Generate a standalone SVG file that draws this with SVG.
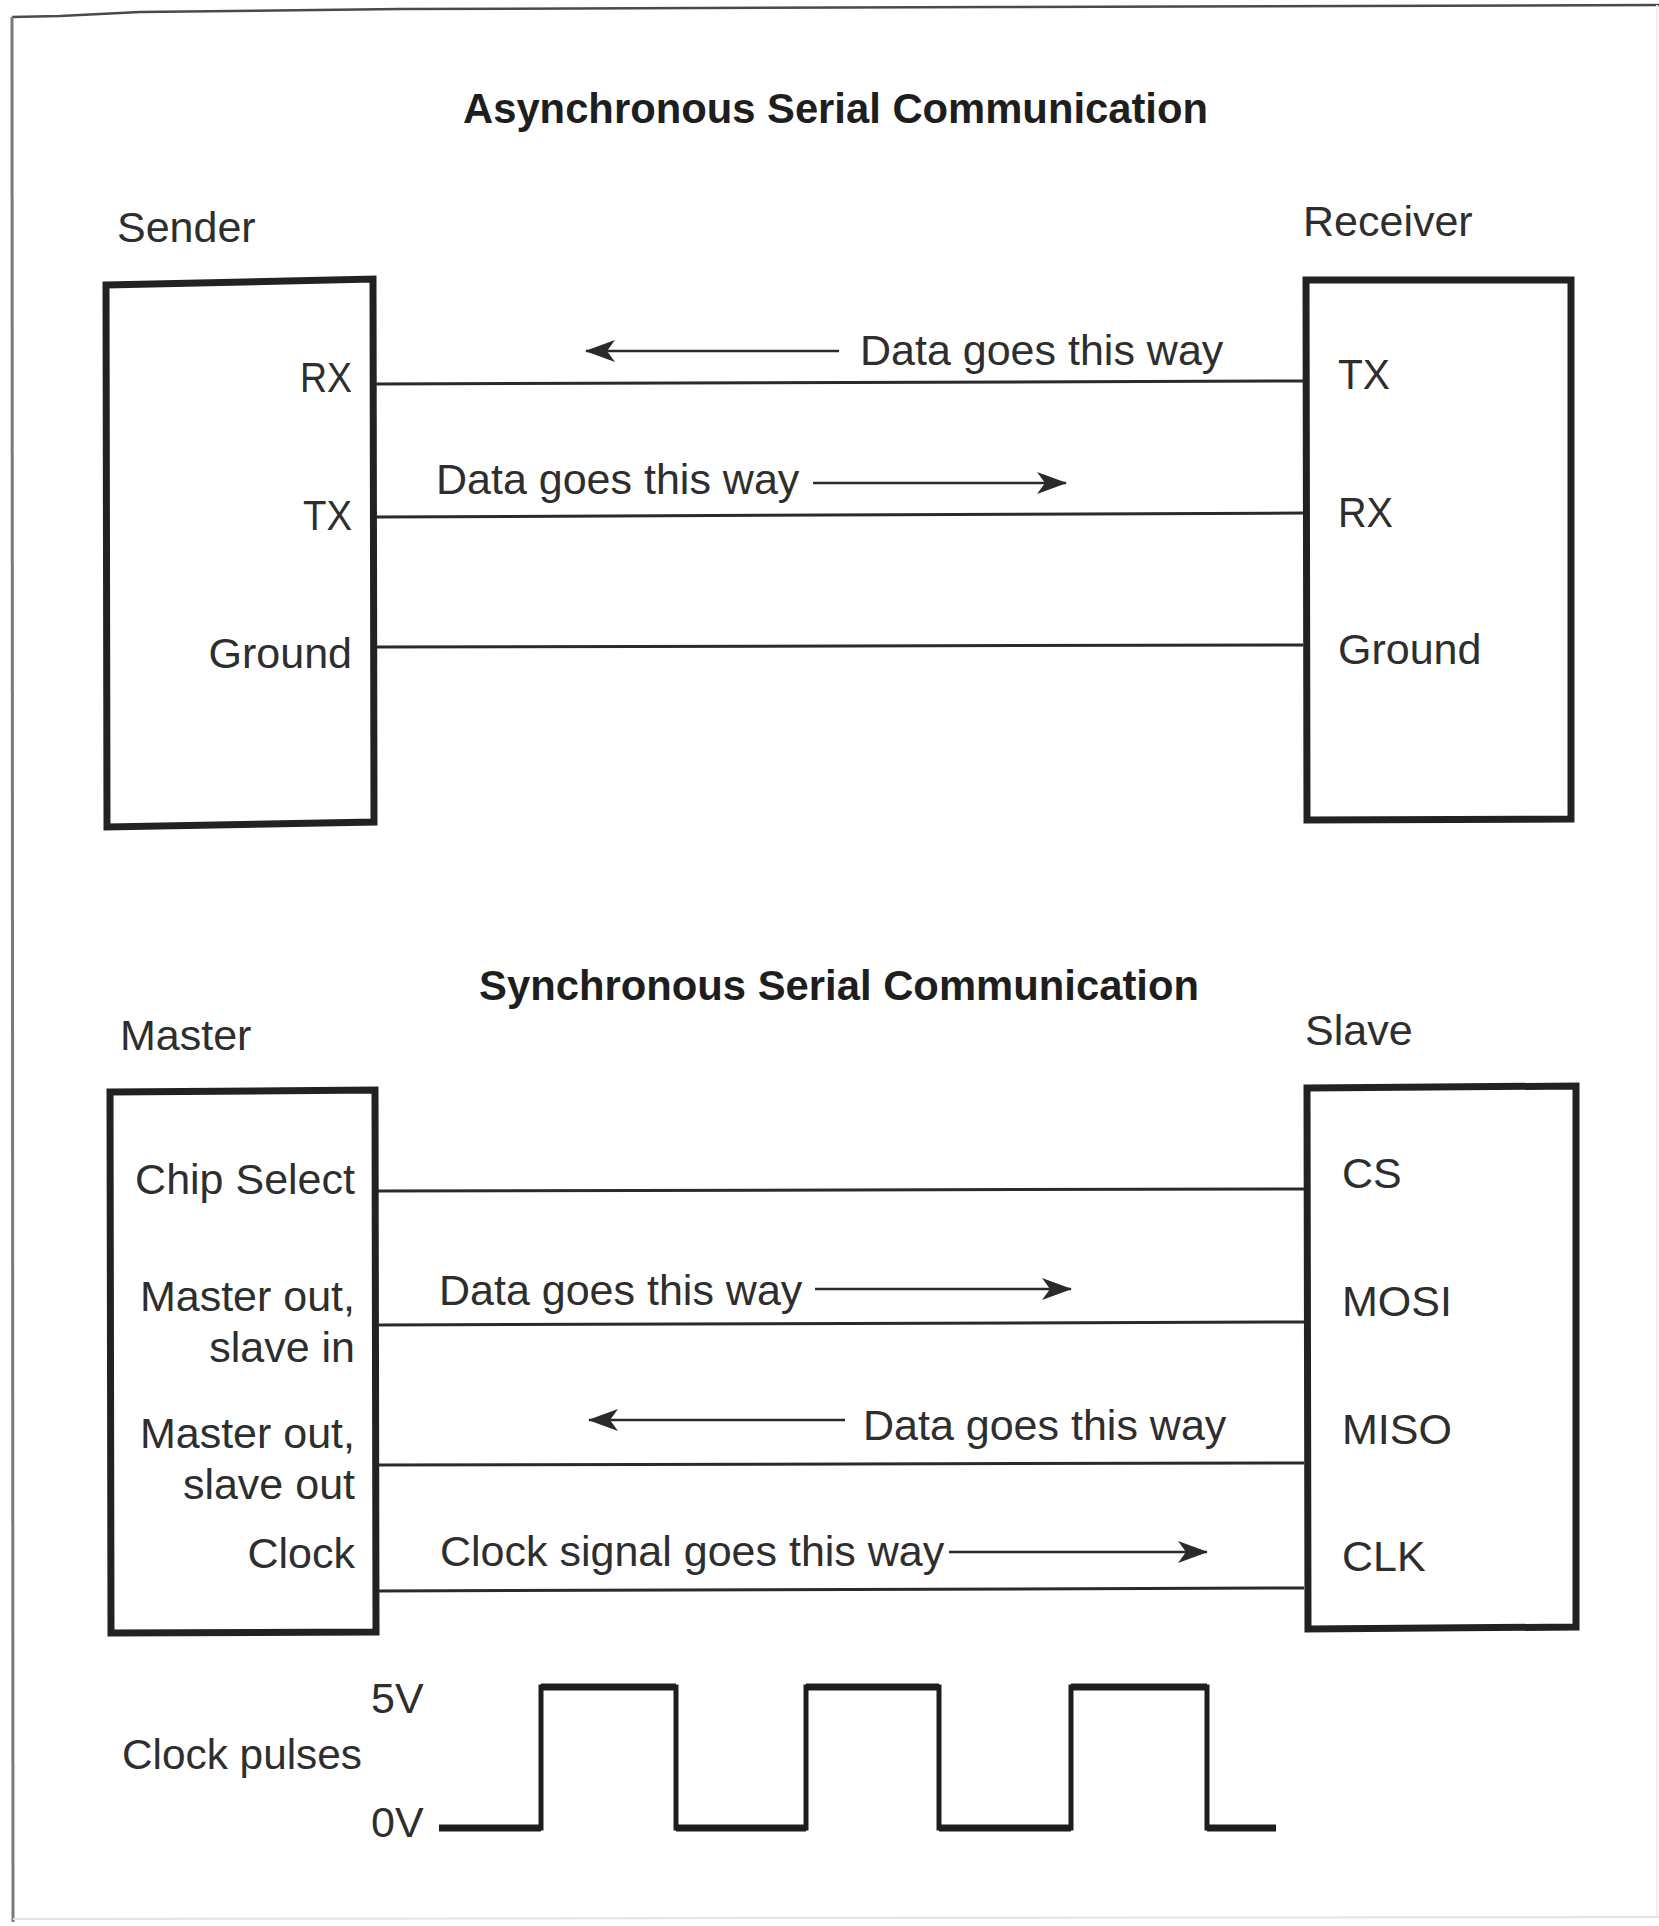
<svg xmlns="http://www.w3.org/2000/svg" width="1659" height="1926" viewBox="0 0 1659 1926">
  <style>
    .title { font-family: "Liberation Sans", Arial, sans-serif; font-weight: bold; font-size: 43px; fill: #1e1e1e; }
    .lbl { font-family: "Liberation Sans", Arial, sans-serif; font-size: 43px; fill: #2e2e2e; }
    .end { text-anchor: end; }
    .box { fill: none; stroke: #222; stroke-width: 7; stroke-linejoin: miter; }
    .wire { fill: none; stroke: #2a2a2a; stroke-width: 3; }
    .arrow { fill: none; stroke: #2a2a2a; stroke-width: 2.5; marker-end: url(#head); }
    .pulse { fill: none; stroke: #1e1e1e; stroke-width: 5; stroke-linejoin: miter; }
    .level { fill: none; stroke: #1e1e1e; stroke-width: 7; }
  </style>
  <defs>
    <marker id="head" markerUnits="userSpaceOnUse" viewBox="0 0 30 22" refX="29" refY="11" markerWidth="30" markerHeight="22" orient="auto">
      <path d="M0,0 L30,11 L0,22 L8,11 Z" fill="#2a2a2a"/>
    </marker>
  </defs>

  <rect width="1659" height="1926" fill="#ffffff"/>

  <!-- page frame -->
  <g id="frame">
    <path d="M12,17 L60,16 L140,12 L400,9 L1000,7 L1659,5" fill="none" stroke="#4a4a4a" stroke-width="2.5"/>
    <line x1="12" y1="17" x2="13" y2="1922" stroke="#7a7a7a" stroke-width="3"/>
    <line x1="13" y1="1919" x2="1659" y2="1917" stroke="#e2e2e2" stroke-width="2"/>
    <line x1="1657" y1="5" x2="1657" y2="1917" stroke="#efefef" stroke-width="2"/>
  </g>

  <!-- section titles -->
  <text class="title" x="463" y="123" textLength="745" lengthAdjust="spacingAndGlyphs">Asynchronous Serial Communication</text>
  <text class="title" x="479" y="1000" textLength="720" lengthAdjust="spacingAndGlyphs">Synchronous Serial Communication</text>

  <!-- asynchronous: sender -->
  <g id="sender">
    <text class="lbl" x="117" y="242">Sender</text>
    <path class="box" d="M106,285 L373,279 L374,822 L107,827 Z"/>
    <text class="lbl" x="300" y="392" textLength="52" lengthAdjust="spacingAndGlyphs">RX</text>
    <text class="lbl" x="303" y="530" textLength="49" lengthAdjust="spacingAndGlyphs">TX</text>
    <text class="lbl end" x="352" y="668">Ground</text>
  </g>

  <!-- asynchronous: receiver -->
  <g id="receiver">
    <text class="lbl" x="1303" y="236">Receiver</text>
    <path class="box" d="M1306,280 L1571,280 L1571,819 L1307,820 Z"/>
    <text class="lbl" x="1338" y="389" textLength="52" lengthAdjust="spacingAndGlyphs">TX</text>
    <text class="lbl" x="1338" y="527" textLength="55" lengthAdjust="spacingAndGlyphs">RX</text>
    <text class="lbl" x="1338" y="664">Ground</text>
  </g>

  <!-- synchronous: master -->
  <g id="master">
    <text class="lbl" x="120" y="1050">Master</text>
    <path class="box" d="M110,1092 L375,1090 L376,1632 L111,1633 Z"/>
    <text class="lbl end" x="355" y="1194">Chip Select</text>
    <text class="lbl end" x="355" y="1311">Master out,</text>
    <text class="lbl end" x="355" y="1362">slave in</text>
    <text class="lbl end" x="355" y="1448">Master out,</text>
    <text class="lbl end" x="355" y="1499">slave out</text>
    <text class="lbl end" x="355" y="1568">Clock</text>
  </g>

  <!-- synchronous: slave -->
  <g id="slave">
    <text class="lbl" x="1305" y="1045">Slave</text>
    <path class="box" d="M1307,1088 L1576,1086 L1576,1627 L1308,1629 Z"/>
    <text class="lbl" x="1342" y="1188">CS</text>
    <text class="lbl" x="1342" y="1316">MOSI</text>
    <text class="lbl" x="1342" y="1444">MISO</text>
    <text class="lbl" x="1342" y="1571">CLK</text>
  </g>

  <!-- wires and direction arrows -->
  <g id="connectors">
    <line class="wire" x1="376" y1="384" x2="1303" y2="381"/>
    <line class="wire" x1="376" y1="517" x2="1303" y2="513"/>
    <line class="wire" x1="376" y1="647" x2="1303" y2="645"/>

    <line class="wire" x1="378" y1="1191" x2="1304" y2="1189"/>
    <line class="wire" x1="378" y1="1325" x2="1304" y2="1322"/>
    <line class="wire" x1="378" y1="1465" x2="1304" y2="1463"/>
    <line class="wire" x1="378" y1="1591" x2="1304" y2="1588"/>

    <line class="arrow" x1="839" y1="351" x2="586" y2="351"/>
    <line class="arrow" x1="813" y1="483" x2="1066" y2="483"/>
    <line class="arrow" x1="815" y1="1289" x2="1071" y2="1289"/>
    <line class="arrow" x1="845" y1="1420" x2="589" y2="1420"/>
    <line class="arrow" x1="949" y1="1552" x2="1207" y2="1552"/>
  </g>

  <!-- direction labels -->
  <g id="direction-labels">
    <text class="lbl" x="860" y="365">Data goes this way</text>
    <text class="lbl" x="436" y="494">Data goes this way</text>
    <text class="lbl" x="439" y="1305">Data goes this way</text>
    <text class="lbl" x="863" y="1440">Data goes this way</text>
    <text class="lbl" x="440" y="1566">Clock signal goes this way</text>
  </g>

  <!-- clock waveform -->
  <g id="clock-pulses">
    <text class="lbl" x="122" y="1769" textLength="240" lengthAdjust="spacingAndGlyphs">Clock pulses</text>
    <text class="lbl" x="371" y="1713">5V</text>
    <text class="lbl" x="371" y="1837">0V</text>
    <path class="pulse" d="M439,1828 L541,1828 L541,1687 L676,1687 L676,1828 L806,1828 L806,1687 L939,1687 L939,1828 L1071,1828 L1071,1687 L1207,1687 L1207,1828 L1276,1828"/>
    <path class="level" d="M439,1828 H541 M541,1687 H676 M676,1828 H806 M806,1687 H939 M939,1828 H1071 M1071,1687 H1207 M1207,1828 H1276"/>
  </g>
</svg>
